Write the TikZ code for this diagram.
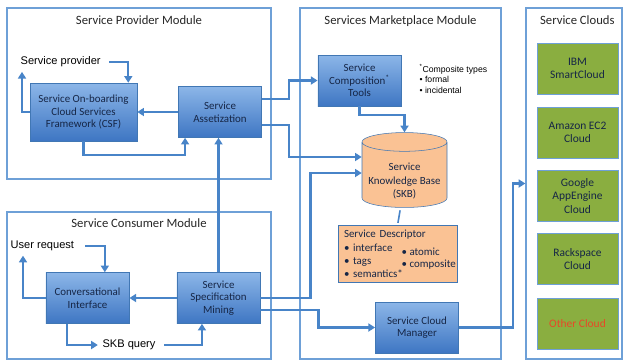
\documentclass[tikz,border=0pt]{standalone}
\usepackage{fontspec}
\setmainfont{Carlito}
\newfontfamily\arialfont{Liberation Sans}
\usetikzlibrary{positioning,arrows.meta,shapes.geometric}
\definecolor{myblue}{RGB}{72,132,200}
\definecolor{myframe}{RGB}{110,160,215}
\definecolor{mytop}{RGB}{140,182,232}
\definecolor{mybottom}{RGB}{62,118,195}
\definecolor{mynavy}{RGB}{22,38,70}
\definecolor{mygreen}{RGB}{138,174,64}
\definecolor{mypeach}{RGB}{250,194,148}
\definecolor{myred}{RGB}{232,72,40}

\begin{document}
\begin{tikzpicture}[x=0.75pt,y=-0.75pt,font=\fontsize{8.2}{9.5}\selectfont,
  module/.style={draw=myframe,line width=1pt},
  mtitle/.style={font=\fontsize{9.5}{11}\selectfont,text=black!85},
  bbox/.style={draw=myblue!90!black,top color=mytop,bottom color=mybottom,text=mynavy,
    align=center,minimum width=62.5pt,minimum height=38.25pt,inner sep=1pt},
  cbox/.style={draw=myframe,fill=mygreen,text=mynavy,align=center,inner sep=1pt,
    minimum width=60.75pt,minimum height=38.25pt,font=\fontsize{8.6}{10}\selectfont},
  plain/.style={font=\arialfont\fontsize{8.3}{10}\selectfont},
  arr/.style={draw=myblue,line width=1.6pt,-{Triangle[length=5pt,width=6pt]}}]

  \useasboundingbox (0,0) rectangle (624,362);

  % the four modules
  \node[module,minimum width=198pt,minimum height=128.25pt] (prov) at (139,93.5) {};
  \node[module,minimum width=198pt,minimum height=110.25pt] (cons) at (139,285.5) {};
  \node[module,minimum width=150.75pt,minimum height=263.25pt] (mkt) at (400.5,183.5) {};
  \node[module,minimum width=72pt,minimum height=263.25pt] (clouds) at (574,183.5) {};

  \node[mtitle] at ([yshift=-9.75pt]prov.north) {Service Provider Module};
  \node[mtitle] at ([yshift=-9pt]cons.north) {Service Consumer Module};
  \node[mtitle] at ([yshift=-10pt]mkt.north) {Services Marketplace Module};
  \node[mtitle] at ([xshift=2.5pt,yshift=-9.5pt]clouds.north) {Service Clouds};

  % provider side
  \node[plain,anchor=west] (sp) at (16,62) {Service provider};
  \node[bbox,minimum width=80.25pt,minimum height=43.5pt] (csf) at (83.5,112)
    {Service On-boarding\\Cloud Services\\Framework (CSF)};
  \node[bbox] (sa) at (220,112) {Service\\Assetization};

  % consumer side
  \node[plain,anchor=west] (ur) at (6,246) {User request};
  \node[bbox] (ci) at (87.5,298) {Conversational\\Interface};
  \node[bbox] (ssm) at (218.5,298) {Service\\Specification\\Mining};
  \node[plain] (skbq) at (129,345) {SKB query};

  % marketplace
  \node[bbox] (sct) at (359.5,80.5) {Service\\Composition\textsuperscript{*}\\Tools};
  \node[font=\arialfont\fontsize{6.5}{8}\selectfont,align=left,anchor=north west,
    inner sep=1pt] (ctypes) at (418,63) {\textsuperscript{*}Composite types\\• formal\\• incidental};
  \node[cylinder,shape border rotate=90,aspect=0.25,draw=myblue!90!black,fill=mypeach,
    minimum width=63.75pt,minimum height=44.5pt,align=center,text=mynavy,inner sep=1pt,
    font=\fontsize{8.2}{10}\selectfont] (skb) at (404.5,176)
    {\rule{0pt}{13.5pt}Service\\Knowledge Base\\(SKB)};
  \node[draw=myblue!90!black,fill=mypeach,text=mynavy,minimum width=89.25pt,minimum height=42pt,
    text width=80.25pt,inner xsep=4.5pt,align=left,font=\fontsize{8.2}{10}\selectfont] (sd)
    at (397.5,254) {Service Descriptor\\• interface\\• tags\\• semantics*};
  \node[text=mynavy,align=left,anchor=west,inner sep=1pt,font=\fontsize{8.2}{9}\selectfont]
    (sdr) at (400,259) {• atomic\\• composite};
  \node[bbox] (scm) at (417,327.5) {Service Cloud\\Manager};

  % clouds
  \foreach \n/\y/\t in {ibm/68.5/{IBM\\SmartCloud},amazon/132.5/{Amazon EC2\\Cloud},
      google/196/{Google\\AppEngine\\Cloud},rack/259/{Rackspace\\Cloud},
      other/324/{\textcolor{myred}{Other Cloud}}}
    \node[cbox] (\n) at (577.5,\y) {\t};

  % provider arrows
  \draw[arr,shorten <=3pt] (sp.east) -| ([xshift=-6.75pt]csf.north east);
  \draw[arr] (csf.west) -| ([xshift=4.5pt]sp.south west);
  \draw[arr] (sa.west) -- (csf.east);
  \draw[arr] (csf.south) -- ++(0,14) -| ([xshift=5.25pt]sa.south west);
  \draw[arr] (ssm.north) -- (ssm.north |- sa.south);

  % consumer arrows
  \draw[arr,shorten <=5pt] (ur.east) -| ([xshift=13pt]ci.north);
  \draw[arr] (ci.west) -| ([xshift=12.75pt]ur.south west);
  \draw[arr] (ssm.west) -- (ci.east);
  \draw[arr] ([xshift=-15.4pt]ci.south) |- (skbq.west);
  \draw[arr,shorten <=3pt] (skbq.east) -| ([xshift=-12.4pt]ssm.south);

  % marketplace arrows
  \draw[arr] ([yshift=9.75pt]sa.east) -- ++(27,0) |- (sct.west);
  \draw[arr] ([yshift=-9.75pt]sa.east) -- ++(27,0) |- ([yshift=14.25pt]skb.west);
  \draw[arr] (ssm.east) -- ++(50,0) |- ([yshift=2.25pt]skb.west);
  \draw[arr] ([yshift=-9pt]ssm.east) -- ++(58,0) |- (scm.west);
  \draw[arr] (sct.south) -- ++(0,9) -| (skb.north);
  \draw[draw=myblue,line width=1.2pt,shorten <=2pt,shorten >=2pt] ([xshift=-3pt]skb.south) -- (sd.north);
  \draw[arr] (scm.east) -- ++(54,0) |- (clouds.west);

\end{tikzpicture}
\end{document}
